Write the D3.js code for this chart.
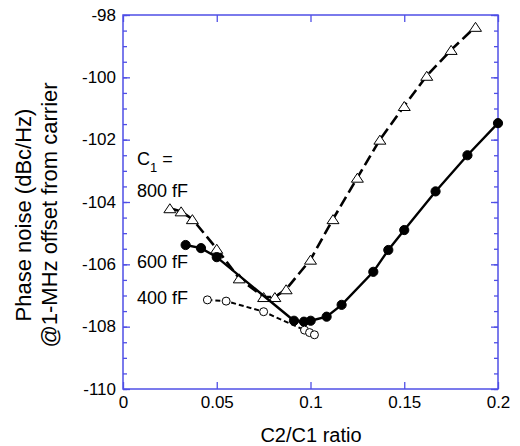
<!DOCTYPE html>
<html>
<head>
<meta charset="utf-8">
<script src="https://cdn.jsdelivr.net/npm/d3@7"></script>
<style>
  body { margin: 0; background: #fff; }
  svg { display: block; font-family: "Liberation Sans", Arial, sans-serif; }
</style>
</head>
<body>
<div id="chart"></div>
<script>
// Phase noise vs C2/C1 ratio, three C1 values

// C1 = 800 fF (open triangles, long dashes)
const ratio800 = [0.025, 0.031, 0.037, 0.050, 0.062, 0.075, 0.081, 0.087, 0.100, 0.112, 0.125, 0.137, 0.150, 0.162, 0.175, 0.188];
const pn800 = [-104.2, -104.3, -104.55, -105.5, -106.45, -107.05, -107.05, -106.8, -105.85, -104.55, -103.22, -102.0, -100.92, -99.95, -99.12, -98.38];

// C1 = 600 fF (filled circles, solid)
const ratio600 = [0.0334, 0.0416, 0.050, 0.0912, 0.0965, 0.1001, 0.1086, 0.1166, 0.1335, 0.1415, 0.150, 0.1667, 0.1837, 0.2];
const pn600 = [-105.38, -105.48, -105.77, -107.81, -107.84, -107.81, -107.68, -107.30, -106.24, -105.54, -104.90, -103.66, -102.50, -101.47];

// C1 = 400 fF (open circles, short dashes)
const ratio400 = [0.045, 0.055, 0.075, 0.0968, 0.0995, 0.1021];
const pn400 = [-107.14, -107.18, -107.52, -108.11, -108.19, -108.26];

const xTicks = [0, 0.05, 0.1, 0.15, 0.2];
const yTicks = [-110, -108, -106, -104, -102, -100, -98];
const yMinorTicks = d3.range(-110, -97.9, 0.5);

const width = 520, height = 446;
const margin = { top: 15, right: 22, bottom: 57, left: 123 };
const innerW = width - margin.left - margin.right;
const innerH = height - margin.top - margin.bottom;
const axisColor = '#4f4fe6';

const svg = d3.select('#chart').append('svg')
  .attr('width', width)
  .attr('height', height);

const g = svg.append('g')
  .attr('transform', `translate(${margin.left},${margin.top})`);

const x = d3.scaleLinear().domain([0, 0.2]).range([0, innerW]);
const y = d3.scaleLinear().domain([-110, -98]).range([innerH, 0]);

// minor ticks left/right
g.append('g').call(d3.axisLeft(y).tickValues(yMinorTicks).tickSize(-4).tickFormat(''))
  .call(a => a.select('.domain').remove())
  .call(a => a.selectAll('line').attr('stroke', axisColor).attr('stroke-width', 1.3));
g.append('g').attr('transform', `translate(${innerW},0)`)
  .call(d3.axisRight(y).tickValues(yMinorTicks).tickSize(-4).tickFormat(''))
  .call(a => a.select('.domain').remove())
  .call(a => a.selectAll('line').attr('stroke', axisColor).attr('stroke-width', 1.3));

// major ticks with labels (plain hyphen for the minus sign, as in the original)
const yAxis = g.append('g')
  .call(d3.axisLeft(y).tickValues(yTicks).tickSize(-7).tickPadding(7).tickFormat(d => String(d)));
g.append('g').attr('transform', `translate(${innerW},0)`)
  .call(d3.axisRight(y).tickValues(yTicks).tickSize(-7).tickFormat(''));
const xAxis = g.append('g').attr('transform', `translate(0,${innerH})`)
  .call(d3.axisBottom(x).tickValues(xTicks).tickSize(-7).tickPadding(5).tickFormat(d => String(d)));
g.append('g')
  .call(d3.axisTop(x).tickValues(xTicks).tickSize(-7).tickFormat(''));

g.selectAll('.domain').remove();
g.selectAll('.tick line').attr('stroke', axisColor).attr('stroke-width', 1.3);
g.selectAll('.tick text').attr('fill', '#000').style('font-size', '17px');
yAxis.selectAll('.tick text').attr('dy', '0.3em');
xAxis.selectAll('.tick text').attr('dy', '0.8em');

g.append('rect')
  .attr('width', innerW)
  .attr('height', innerH)
  .attr('fill', 'none')
  .attr('stroke', axisColor)
  .attr('stroke-width', 1.5);

// axis titles
svg.append('text')
  .attr('x', 311)
  .attr('y', 442)
  .attr('text-anchor', 'middle')
  .style('font-size', '20px')
  .text('C2/C1 ratio');

const yTitle = svg.append('text')
  .attr('transform', 'translate(31,215) rotate(-90)')
  .attr('text-anchor', 'middle')
  .style('font-size', '22px');
yTitle.append('tspan').attr('x', 0).attr('y', 0).text('Phase noise (dBc/Hz)');
yTitle.append('tspan').attr('x', 0).attr('y', 26).text('@1-MHz offset from carrier');

// series
const series = [
  { name: '800 fF', xs: ratio800, ys: pn800, marker: 'triangle', dash: '11,5', lw: 2.6 },
  { name: '600 fF', xs: ratio600, ys: pn600, marker: 'dot', dash: null, lw: 2.4 },
  { name: '400 fF', xs: ratio400, ys: pn400, marker: 'circle', dash: '5,3', lw: 2 }
];

// flat triangle centred on its bounding box
const flatTriangle = {
  draw(ctx, size) {
    const w = 12, h = 9;
    ctx.moveTo(0, -h / 2);
    ctx.lineTo(w / 2, h / 2);
    ctx.lineTo(-w / 2, h / 2);
    ctx.closePath();
  }
};

const line = d3.line().x(d => x(d[0])).y(d => y(d[1]));

series.forEach(s => {
  const pts = s.xs.map((v, i) => [v, s.ys[i]]);
  const sg = g.append('g').attr('class', 'series');
  sg.append('path')
    .attr('d', line(pts))
    .attr('fill', 'none')
    .attr('stroke', '#000')
    .attr('stroke-width', s.lw)
    .attr('stroke-dasharray', s.dash);

  if (s.marker === 'triangle') {
    sg.selectAll('path.mk').data(pts).enter().append('path')
      .attr('class', 'mk')
      .attr('d', d3.symbol().type(flatTriangle).size(60))
      .attr('transform', d => `translate(${x(d[0])},${y(d[1])})`)
      .attr('fill', '#fff')
      .attr('stroke', '#000')
      .attr('stroke-width', 1);
  } else {
    sg.selectAll('circle').data(pts).enter().append('circle')
      .attr('cx', d => x(d[0]))
      .attr('cy', d => y(d[1]))
      .attr('r', s.marker === 'dot' ? 4.6 : 4)
      .attr('fill', s.marker === 'dot' ? '#000' : '#fff')
      .attr('stroke', '#000')
      .attr('stroke-width', 1);
  }
});

// in-plot labels
const lbl = svg.append('g').style('font-size', '18px');
const c1 = lbl.append('text').attr('x', 137).attr('y', 165);
c1.append('tspan').text('C');
c1.append('tspan').attr('dy', 7).style('font-size', '13px').text('1');
c1.append('tspan').attr('dy', -7).text(' =');
lbl.append('text').attr('x', 137).attr('y', 197).text('800 fF');
lbl.append('text').attr('x', 137).attr('y', 268).text('600 fF');
lbl.append('text').attr('x', 137).attr('y', 304).text('400 fF');
</script>
</body>
</html>
